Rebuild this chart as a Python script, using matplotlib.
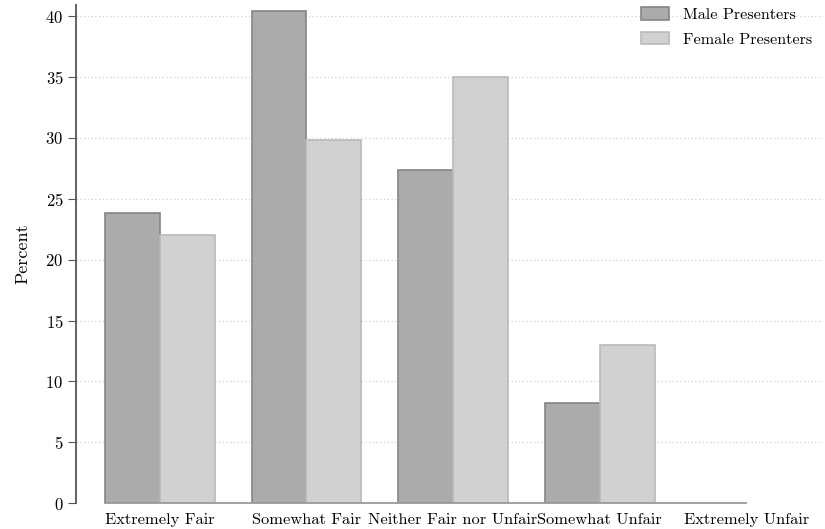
import numpy as np
import matplotlib.pyplot as plt

categories = ["Extremely Fair", "Somewhat Fair", "Neither Fair nor Unfair",
              "Somewhat Unfair", "Extremely Unfair"]
male = [23.8, 40.4, 27.4, 8.2, 0.0]
female = [22.0, 29.8, 35.0, 13.0, 0.0]
yticks = [0, 5, 10, 15, 20, 25, 30, 35, 40]

plt.rcParams['font.family'] = ['cmr10', 'DejaVu Serif']
plt.rcParams['axes.formatter.use_mathtext'] = True

fig = plt.figure(figsize=(8.25, 5.29), dpi=100)
ax = fig.add_axes([0.092, 0.049, 0.905, 0.941])

x = np.arange(len(categories))
w = 0.375
ax.bar(x - w / 2, male, width=w, color="#ababab", edgecolor="#858585",
       linewidth=[1.2 if v > 0 else 0 for v in male],
       label="Male Presenters", zorder=3)
ax.bar(x + w / 2, female, width=w, color="#d1d1d1", edgecolor="#bababa",
       linewidth=[1.2 if v > 0 else 0 for v in female],
       label="Female Presenters", zorder=3)

# x axis line spans the bar range only
ax.plot([-w, x[-1]], [0, 0], color="#9a9a9a", linewidth=1.3, zorder=4,
        clip_on=False)

ax.set_xlim(-0.573, 4.52)
ax.set_ylim(0, 40.9)
ax.set_yticks(yticks)
ax.set_xticks(x)
ax.set_xticklabels(categories, fontsize=11.8)
ax.tick_params(axis="x", length=0, pad=7)
ax.tick_params(axis="y", length=6, color="#555555", labelsize=12, pad=3)
ax.set_ylabel("Percent", fontsize=13, labelpad=11)

for s in ["top", "right", "bottom"]:
    ax.spines[s].set_visible(False)
ax.spines["left"].set_color("#555555")
ax.spines["left"].set_linewidth(1.3)

ax.yaxis.grid(True, linestyle=(0, (1, 2)), color="#d0d0d0", linewidth=0.9, zorder=0)
ax.set_axisbelow(True)

ax.legend(loc="upper right", bbox_to_anchor=(1.005, 1.025), frameon=False,
          fontsize=11.6, handlelength=1.75, handleheight=0.8, labelspacing=0.6,
          handletextpad=0.85)

fig.savefig("out.png", dpi=100)
